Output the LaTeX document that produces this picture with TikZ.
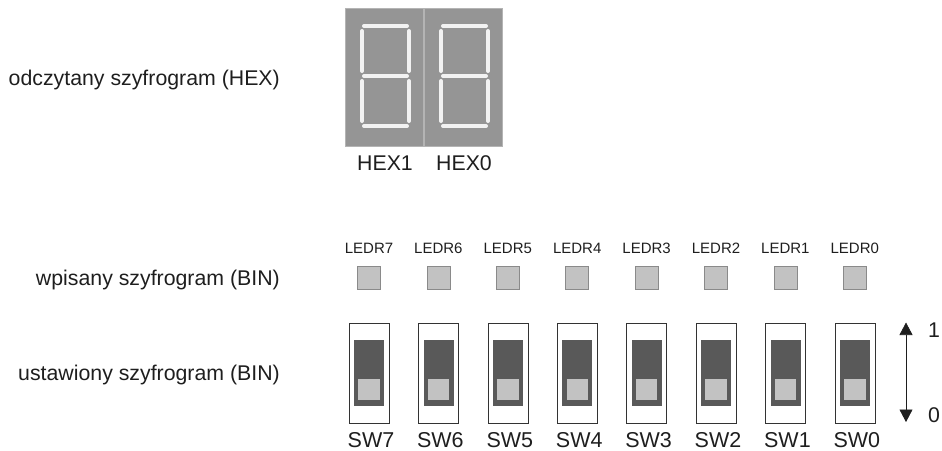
\documentclass[tikz,border=0pt]{standalone}
\usepackage{fontspec}
\setmainfont{Liberation Sans}
\usetikzlibrary{arrows.meta}
\definecolor{txt}{HTML}{1E1E1E}
\definecolor{digitbg}{HTML}{959595}
\definecolor{digitedge}{HTML}{B4B4B4}
\definecolor{segcol}{HTML}{F2F2F2}
\definecolor{ledfill}{HTML}{C2C2C2}
\definecolor{lededge}{HTML}{8A8A8A}
\definecolor{swdark}{HTML}{595959}
\tikzset{
  lbl/.style={font=\fontsize{21.3}{24}\selectfont, text=txt, inner sep=0pt},
  swlbl/.style={font=\fontsize{21.5}{24}\selectfont, text=txt, inner sep=0pt},
  small/.style={font=\fontsize{15}{18}\selectfont, text=txt, inner sep=0pt},
  digitbox/.style={draw=digitedge, fill=digitbg, line width=0.8pt},
  seg/.style={draw=segcol, line width=4pt, line cap=round},
  ledbox/.style={draw=lededge, fill=ledfill, line width=0.8pt},
  swframe/.style={draw=black!80, fill=white, line width=0.6pt},
  swbody/.style={draw=swdark, fill=swdark, line width=0.6pt},
  swknob/.style={draw=swdark, fill=ledfill, line width=1.6pt},
}
\begin{document}
\begin{tikzpicture}[x=1pt,y=-1pt]
\useasboundingbox (0,0) rectangle (942,450);
% left labels
\node[lbl, anchor=base east] (t1) at (280,85) {odczytany szyfrogram (HEX)};
\node[lbl, anchor=base east] (t2) at (280,285) {wpisany szyfrogram (BIN)};
\node[lbl, anchor=base east] (t3) at (280,380) {ustawiony szyfrogram (BIN)};
% seven-segment displays
\foreach \d/\xo/\name in {1/345/HEX1, 0/424/HEX0}{
  \draw[digitbox] (\xo,8) rectangle (\xo+78,146);
  \draw[seg] (\xo+19,26) -- (\xo+62,26);
  \draw[seg] (\xo+19,76) -- (\xo+62,76);
  \draw[seg] (\xo+19,126) -- (\xo+62,126);
  \draw[seg] (\xo+17,31) -- (\xo+17,71);
  \draw[seg] (\xo+17,81) -- (\xo+17,121);
  \draw[seg] (\xo+64,31) -- (\xo+64,71);
  \draw[seg] (\xo+64,81) -- (\xo+64,121);
  \node[lbl, anchor=base] (hex\d) at (\xo+40,170) {\name};
}
% LEDs and switches
\foreach \i in {0,...,7}{
  \pgfmathsetmacro{\cx}{369+(7-\i)*69.4}
  \node[small, anchor=base] (ledl\i) at (\cx,253.5) {LEDR\i};
  \node[ledbox, minimum width=23pt, minimum height=23pt, inner sep=0pt] (led\i) at (\cx,277.5) {};
  \node[swframe, minimum width=40pt, minimum height=100pt, inner sep=0pt] (sw\i) at (\cx,373) {};
  \node[swbody, minimum width=29pt, minimum height=65pt, inner sep=0pt] (swb\i) at (\cx,372.5) {};
  \node[swknob, minimum width=23pt, minimum height=23pt, inner sep=0pt] (swk\i) at (\cx,389.5) {};
  \node[swlbl, anchor=base] (swl\i) at (\cx+2,447) {SW\i};
}
% arrow
\coordinate (atop) at (906,322.5);
\coordinate (abot) at (906,422);
\draw[line width=0.7pt, txt, {Triangle[length=12.5pt,width=13pt]}-{Triangle[length=12.5pt,width=13pt]}] (atop) -- (abot);
\node[lbl, anchor=base] (one) at (934,337) {1};
\node[lbl, anchor=base] (zero) at (934,422) {0};
\end{tikzpicture}
\end{document}
